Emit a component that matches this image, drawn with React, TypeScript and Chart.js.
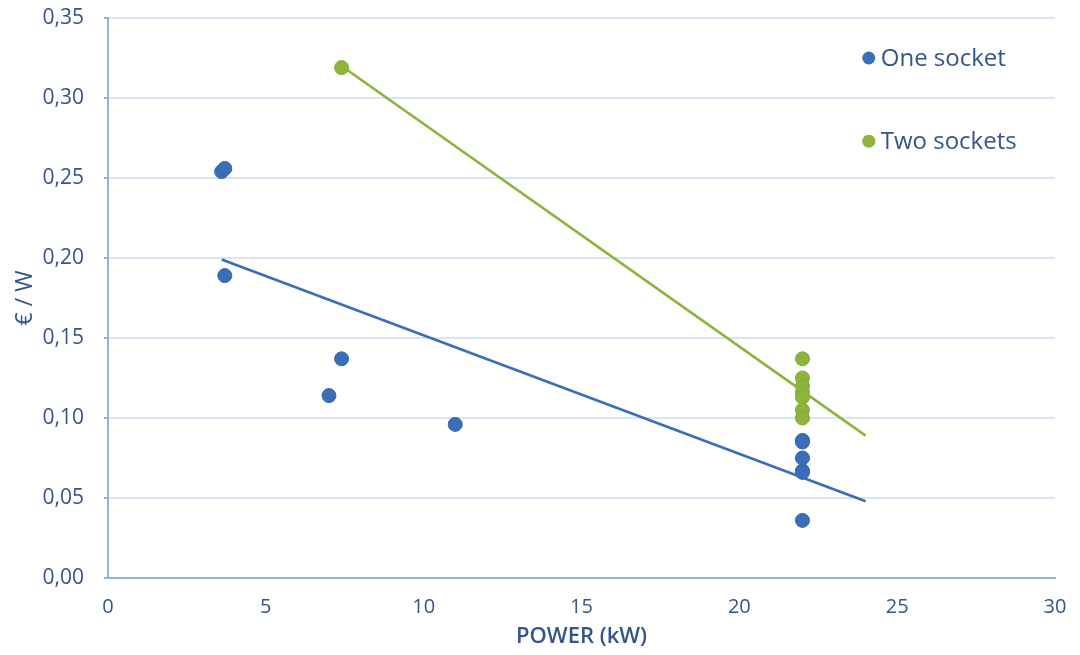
import React, { useEffect, useRef } from "react";
import { Chart, registerables } from "chart.js";

Chart.register(...registerables);

// One-socket chargers: power (kW) and cost per watt (€/W)
const oneSocketPower = [3.6, 3.7, 3.7, 7.0, 7.4, 11, 22, 22, 22, 22, 22, 22];
const oneSocketCost = [0.254, 0.256, 0.189, 0.114, 0.137, 0.096, 0.086, 0.085, 0.075, 0.067, 0.066, 0.036];

// Two-socket chargers
const twoSocketPower = [7.4, 22, 22, 22, 22, 22, 22, 22];
const twoSocketCost = [0.319, 0.137, 0.125, 0.12, 0.116, 0.113, 0.105, 0.1];

// Linear trend lines (start and end of each fitted line)
const oneTrendPower = [3.6, 24];
const oneTrendCost = [0.199, 0.048];
const twoTrendPower = [7.4, 24];
const twoTrendCost = [0.32, 0.089];

const legendLabels = ["One socket", "Two sockets"];
const xTitle = "POWER (kW)";
const yTitle = "€ / W";

const BLUE = "#3a6fb8";
const GREEN = "#8db53c";
const TEXT = "#34558a";
const FONT = "'Open Sans', sans-serif";

const toPoints = (xs: number[], ys: number[]) => xs.map((x, i) => ({ x, y: ys[i] }));

export default function App() {
  const canvasRef = useRef<HTMLCanvasElement | null>(null);

  useEffect(() => {
    document.body.style.margin = "0";
    const canvas = canvasRef.current;
    if (!canvas) return;

    // Legend drawn inside the plot area, top-right
    const insideLegend = {
      id: "insideLegend",
      afterDatasetsDraw(chart: any) {
        const { ctx, scales } = chart;
        const entries = [
          { label: legendLabels[0], color: BLUE, y: 0.325 },
          { label: legendLabels[1], color: GREEN, y: 0.273 },
        ];
        ctx.save();
        ctx.font = "24px " + FONT;
        ctx.textBaseline = "middle";
        entries.forEach((e) => {
          const py = scales.y.getPixelForValue(e.y);
          const px = scales.x.getPixelForValue(24.1);
          ctx.beginPath();
          ctx.arc(px, py, 6.5, 0, Math.PI * 2);
          ctx.fillStyle = e.color;
          ctx.fill();
          ctx.fillStyle = TEXT;
          ctx.textAlign = "left";
          ctx.fillText(e.label, px + 12, py + 1);
        });
        ctx.restore();
      },
    };

    const chart = new Chart(canvas, {
      type: "scatter",
      data: {
        datasets: [
          {
            label: "One socket trend",
            type: "line",
            data: toPoints(oneTrendPower, oneTrendCost),
            borderColor: BLUE,
            borderWidth: 2.7,
            pointRadius: 0,
            fill: false,
          },
          {
            label: "Two sockets trend",
            type: "line",
            data: toPoints(twoTrendPower, twoTrendCost),
            borderColor: GREEN,
            borderWidth: 2.7,
            pointRadius: 0,
            fill: false,
          },
          {
            label: legendLabels[0],
            data: toPoints(oneSocketPower, oneSocketCost),
            backgroundColor: BLUE,
            borderColor: "#3565a8",
            borderWidth: 1,
            pointRadius: 7,
            pointHoverRadius: 7,
          },
          {
            label: legendLabels[1],
            data: toPoints(twoSocketPower, twoSocketCost),
            backgroundColor: GREEN,
            borderColor: "#82a935",
            borderWidth: 1,
            pointRadius: 7,
            pointHoverRadius: 7,
          },
        ],
      },
      options: {
        animation: false,
        responsive: false,
        maintainAspectRatio: false,
        layout: { autoPadding: false, padding: { top: 18, right: 25, left: 0, bottom: 0 } },
        plugins: {
          legend: { display: false },
          tooltip: { enabled: false },
        },
        scales: {
          x: {
            type: "linear",
            min: 0,
            max: 30,
            ticks: {
              stepSize: 5,
              color: TEXT,
              padding: 17,
              font: { family: FONT, size: 20 },
            },
            grid: { display: false, drawTicks: false },
            border: { color: "#8fb3df", width: 2 },
            title: {
              display: true,
              text: xTitle,
              color: TEXT,
              padding: { top: 0, bottom: 5 },
              font: { family: FONT, size: 22, weight: "600" },
            },
            afterFit: (s: any) => {
              s.height = 77;
              s.paddingLeft = 0;
              s.paddingRight = 0;
            },
          },
          y: {
            type: "linear",
            min: 0,
            max: 0.35,
            ticks: {
              stepSize: 0.05,
              color: TEXT,
              padding: 20,
              font: { family: FONT, size: 21 },
              callback: (v: any) => Number(v).toFixed(2).replace(".", ","),
            },
            grid: { color: "#d9e5f4", lineWidth: 2, tickLength: 4, tickColor: "#8fb3df" },
            border: { color: "#8fb3df", width: 2 },
            title: {
              display: true,
              text: yTitle,
              color: TEXT,
              padding: { top: 12, bottom: 0 },
              font: { family: FONT, size: 23 },
            },
            afterFit: (s: any) => {
              s.width = 108;
              s.paddingTop = 0;
              s.paddingBottom = 0;
            },
          },
        },
      },
      plugins: [insideLegend],
    } as any);

    return () => chart.destroy();
  }, []);

  return (
    <div style={{ width: 1080, height: 655, background: "#fff" }}>
      <canvas ref={canvasRef} width={1080} height={655} />
    </div>
  );
}
